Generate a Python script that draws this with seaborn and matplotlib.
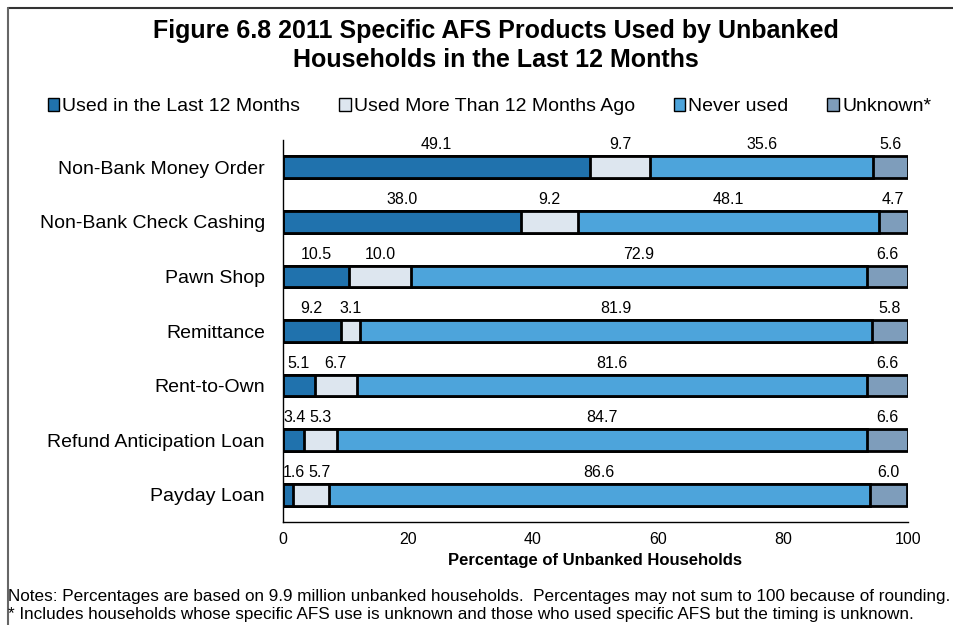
import matplotlib
matplotlib.use("Agg")
import matplotlib.pyplot as plt
from matplotlib.patches import Patch
from matplotlib.lines import Line2D
import seaborn as sns
import pandas as pd
import numpy as np

categories = ["Non-Bank Money Order", "Non-Bank Check Cashing", "Pawn Shop",
              "Remittance", "Rent-to-Own", "Refund Anticipation Loan", "Payday Loan"]
used_last_12 = [49.1, 38.0, 10.5, 9.2, 5.1, 3.4, 1.6]
used_before = [9.7, 9.2, 10.0, 3.1, 6.7, 5.3, 5.7]
never_used = [35.6, 48.1, 72.9, 81.9, 81.6, 84.7, 86.6]
unknown = [5.6, 4.7, 6.6, 5.8, 6.6, 6.6, 6.0]

series_names = ["Used in the Last 12 Months", "Used More Than 12 Months Ago",
                "Never used", "Unknown*"]
colors = ["#2072AD", "#DDE6EF", "#4DA4DB", "#7E9DBB"]

df = pd.DataFrame({"cat": categories, series_names[0]: used_last_12,
                   series_names[1]: used_before, series_names[2]: never_used,
                   series_names[3]: unknown})

sns.set_style("white")
plt.rcParams["font.family"] = ["Liberation Sans", "DejaVu Sans"]
plt.rcParams["text.color"] = "black"
plt.rcParams["axes.labelcolor"] = "black"
plt.rcParams["xtick.color"] = "black"
plt.rcParams["ytick.color"] = "black"

fig = plt.figure(figsize=(9.54, 6.25), dpi=100)
ax = fig.add_axes([0.2967, 0.1648, 0.655, 0.6112])

# stacked bars: draw cumulative totals from the largest down
cum = df[series_names].cumsum(axis=1)
for name, col in reversed(list(zip(series_names, colors))):
    sns.barplot(data=cum.assign(cat=df["cat"]), x=name, y="cat", orient="h",
                color=col, edgecolor="black", linewidth=2, width=0.4,
                saturation=1, ax=ax)

# value labels above each segment, nudged right so small ones don't collide
half_w = 1.7
for i in range(len(categories)):
    left = 0
    prev_right = -10
    for name in series_names:
        v = df[name][i]
        xc = max(left + v / 2, half_w + 0.1, prev_right + 0.6 + half_w)
        ax.text(xc, i - 0.41, f"{v:.1f}", ha="center", va="center",
                fontsize=11.5, color="black")
        prev_right = xc + half_w
        left += v

ax.set_xlim(0, 100)
ax.set_ylim(6.5, -0.5)
ax.set_xticks([0, 20, 40, 60, 80, 100])
ax.set_xlabel("Percentage of Unbanked Households", fontsize=12,
              fontweight="bold", labelpad=4)
ax.set_ylabel("")
ax.set_yticks(range(len(categories)))
ax.set_yticklabels(categories, fontsize=14)
ax.set_yticks(np.arange(-0.5, 7, 1), minor=True)
ax.tick_params(axis="y", which="major", length=0, pad=13)
ax.tick_params(axis="y", which="minor", length=4, width=1, color="black")
ax.tick_params(axis="x", length=4, width=1, color="black", labelsize=11.5)
for s in ["top", "right"]:
    ax.spines[s].set_visible(False)
for s in ["left", "bottom"]:
    ax.spines[s].set_color("black")
    ax.spines[s].set_linewidth(1)

handles = [Patch(facecolor=c, edgecolor="black", linewidth=1) for c in colors]
fig.legend(handles, series_names, loc="center", bbox_to_anchor=(0.513, 0.829),
           ncol=4, frameon=False, fontsize=14, handlelength=0.6,
           handleheight=0.6, handletextpad=0.15, columnspacing=2.0)

fig.text(0.52, 0.927, "Figure 6.8 2011 Specific AFS Products Used by Unbanked\n"
         "Households in the Last 12 Months", ha="center", va="center",
         fontsize=18, fontweight="bold", linespacing=1.25)

fig.text(0.008, 0.046, "Notes: Percentages are based on 9.9 million unbanked households.  "
         "Percentages may not sum to 100 because of rounding.", fontsize=12.3,
         va="center")
fig.text(0.008, 0.016, "* Includes households whose specific AFS use is unknown and "
         "those who used specific AFS but the timing is unknown.", fontsize=12.3,
         va="center")

# partial frame around the chart
fig.add_artist(Line2D([0.0085, 1.0], [0.987, 0.987], color="#333333", lw=1.5,
                      transform=fig.transFigure))
fig.add_artist(Line2D([0.0085, 0.0085], [0.0, 0.987], color="#666666", lw=1.5,
                      transform=fig.transFigure))

fig.savefig("out.png", dpi=100)
